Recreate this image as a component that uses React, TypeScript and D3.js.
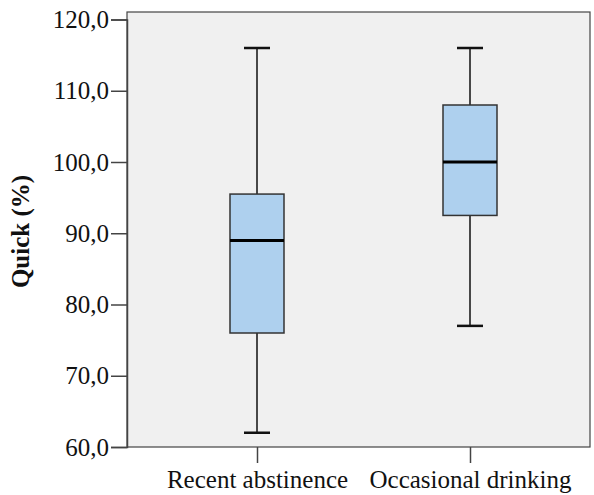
import React, { useRef, useEffect } from 'react';
import * as d3 from 'd3';

// Box plot summaries
const categories = ['Recent abstinence', 'Occasional drinking'];
const whiskerLow = [62, 77];
const quartile1 = [76, 92.5];
const medians = [89, 100];
const quartile3 = [95.5, 108];
const whiskerHigh = [116, 116];
const yTicks = [60, 70, 80, 90, 100, 110, 120];

const width = 594;
const height = 495;

const App: React.FC = () => {
  const svgRef = useRef<SVGSVGElement>(null);

  useEffect(() => {
    const svg = d3.select(svgRef.current);
    svg.selectAll('*').remove();

    const left = 127;
    const right = 590;
    const top = 12;
    const bottom = 447;

    const y = d3.scaleLinear().domain([60, 120]).range([bottom, 19.5]);
    const x = d3.scalePoint<string>().domain(categories).range([257, 470]);

    const font = '"Liberation Serif", "Times New Roman", serif';

    // plot background
    svg.append('rect')
      .attr('x', left)
      .attr('y', top)
      .attr('width', right - left)
      .attr('height', bottom - top)
      .attr('fill', '#f0f0f0')
      .attr('stroke', '#444')
      .attr('stroke-width', 1.2);

    // y axis
    const yAxis = svg.append('g')
      .attr('transform', `translate(${left},0)`)
      .call(d3.axisLeft(y).tickValues(yTicks).tickSize(16).tickPadding(2)
        .tickFormat(d => d3.format('.1f')(d as number).replace('.', ',')));
    yAxis.select('.domain').attr('stroke', '#444').attr('stroke-width', 1.5);
    yAxis.selectAll('.tick line').attr('stroke', '#444').attr('stroke-width', 1.5);
    yAxis.selectAll('text')
      .attr('fill', '#111')
      .style('font-family', font)
      .style('font-size', '25px');

    // x axis
    const xAxis = svg.append('g')
      .attr('transform', `translate(0,${bottom})`)
      .call(d3.axisBottom(x).tickSize(16).tickPadding(7));
    xAxis.select('.domain').remove();
    xAxis.selectAll('.tick line').attr('stroke', '#444').attr('stroke-width', 1.5);
    xAxis.selectAll('text')
      .attr('fill', '#111')
      .style('font-family', font)
      .style('font-size', '25px');

    // y label
    svg.append('text')
      .attr('transform', `translate(29,${(top + bottom) / 2 + 2}) rotate(-90)`)
      .attr('text-anchor', 'middle')
      .attr('fill', '#111')
      .style('font-family', font)
      .style('font-size', '25px')
      .style('font-weight', 'bold')
      .text('Quick (%)');

    const boxW = 54;
    const capW = 26;

    categories.forEach((c, i) => {
      const cx = x(c) as number;
      const g = svg.append('g');

      // whiskers
      g.append('line')
        .attr('x1', cx).attr('x2', cx)
        .attr('y1', y(whiskerHigh[i])).attr('y2', y(quartile3[i]))
        .attr('stroke', '#111').attr('stroke-width', 1.5);
      g.append('line')
        .attr('x1', cx).attr('x2', cx)
        .attr('y1', y(quartile1[i])).attr('y2', y(whiskerLow[i]))
        .attr('stroke', '#111').attr('stroke-width', 1.5);
      [whiskerHigh[i], whiskerLow[i]].forEach(v => {
        g.append('line')
          .attr('x1', cx - capW / 2).attr('x2', cx + capW / 2)
          .attr('y1', y(v)).attr('y2', y(v))
          .attr('stroke', '#111').attr('stroke-width', 2.5);
      });

      // box
      g.append('rect')
        .attr('x', cx - boxW / 2)
        .attr('y', y(quartile3[i]))
        .attr('width', boxW)
        .attr('height', y(quartile1[i]) - y(quartile3[i]))
        .attr('fill', '#aed0ee')
        .attr('stroke', '#333')
        .attr('stroke-width', 1.5);

      // median
      g.append('line')
        .attr('x1', cx - boxW / 2).attr('x2', cx + boxW / 2)
        .attr('y1', y(medians[i])).attr('y2', y(medians[i]))
        .attr('stroke', '#000').attr('stroke-width', 3);
    });
  }, []);

  return (
    <svg
      ref={svgRef}
      width={width}
      height={height}
      style={{ position: 'absolute', left: 0, top: 0, background: '#fff' }}
    />
  );
};

export default App;
